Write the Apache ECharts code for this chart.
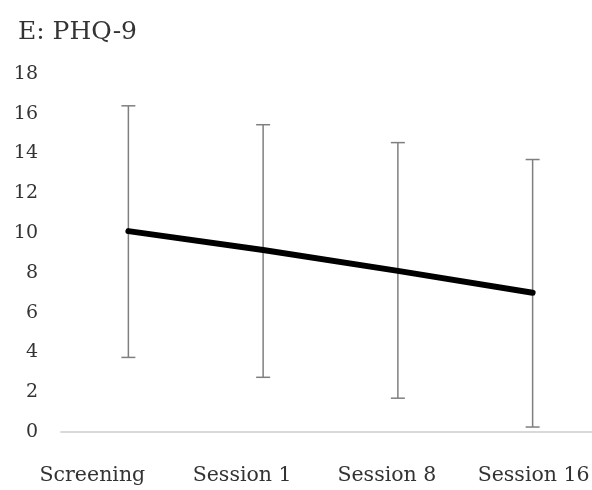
<!DOCTYPE html>
<html><head><meta charset="utf-8">
<script src="https://cdn.jsdelivr.net/npm/echarts@6/dist/echarts.min.js"></script>
<style>html,body{margin:0;padding:0;background:#fff;overflow:hidden}#c{width:600px;height:490px}</style>
</head><body><div id="c"></div>
<script>
var categories = ['Screening', 'Session 1', 'Session 8', 'Session 16'];
var means = [10.1, 9.15, 8.1, 7.0];
var lows = [3.75, 2.75, 1.7, 0.25];
var highs = [16.4, 15.45, 14.55, 13.7];
var yTicks = [0, 2, 4, 6, 8, 10, 12, 14, 16, 18];

var labelShift = [-36, -21, -11, 1];
var font = 'DejaVu Serif';
var chart = echarts.init(document.getElementById('c'));
var rich = {};
labelShift.forEach(function (s, i) {
  rich['l' + i] = {
    fontFamily: font, fontSize: 20.5, color: '#333333',
    padding: s < 0 ? [0, -2 * s, 0, 0] : [0, 0, 0, 2 * s]
  };
});
chart.setOption({
  animation: false,
  title: {
    text: 'E: PHQ-9', left: 13, top: 15,
    textStyle: { fontFamily: font, fontSize: 25, fontWeight: 'normal', color: '#333333' }
  },
  grid: { left: 61, right: 0, top: 74, bottom: 58, containLabel: false },
  xAxis: {
    type: 'category', data: categories,
    axisLine: { lineStyle: { color: '#d9d9d9', width: 2 } },
    axisTick: { show: false },
    axisLabel: {
      margin: 33,
      formatter: function (v, i) { return '{l' + i + '|' + v + '}'; },
      rich: rich
    }
  },
  yAxis: {
    type: 'value', min: yTicks[0], max: yTicks[yTicks.length - 1], interval: 2,
    axisLine: { show: false }, axisTick: { show: false },
    splitLine: { show: false },
    axisLabel: { margin: 23, fontFamily: font, fontSize: 19, color: '#333333' }
  },
  series: [
    {
      type: 'custom', z: 2,
      data: categories.map(function (c, i) { return [i, lows[i], highs[i]]; }),
      renderItem: function (params, api) {
        var lo = api.coord([api.value(0), api.value(1)]);
        var hi = api.coord([api.value(0), api.value(2)]);
        var hw = 7;
        var st = { stroke: '#7f7f7f', lineWidth: 1.5 };
        return {
          type: 'group', children: [
            { type: 'line', shape: { x1: hi[0], y1: hi[1], x2: lo[0], y2: lo[1] }, style: st },
            { type: 'line', shape: { x1: hi[0] - hw, y1: hi[1], x2: hi[0] + hw, y2: hi[1] }, style: st },
            { type: 'line', shape: { x1: lo[0] - hw, y1: lo[1], x2: lo[0] + hw, y2: lo[1] }, style: st }
          ]
        };
      }
    },
    {
      type: 'line', z: 3, data: means, showSymbol: false, symbol: 'none',
      lineStyle: { color: '#000', width: 6, cap: 'round' }
    }
  ]
});
</script></body></html>
